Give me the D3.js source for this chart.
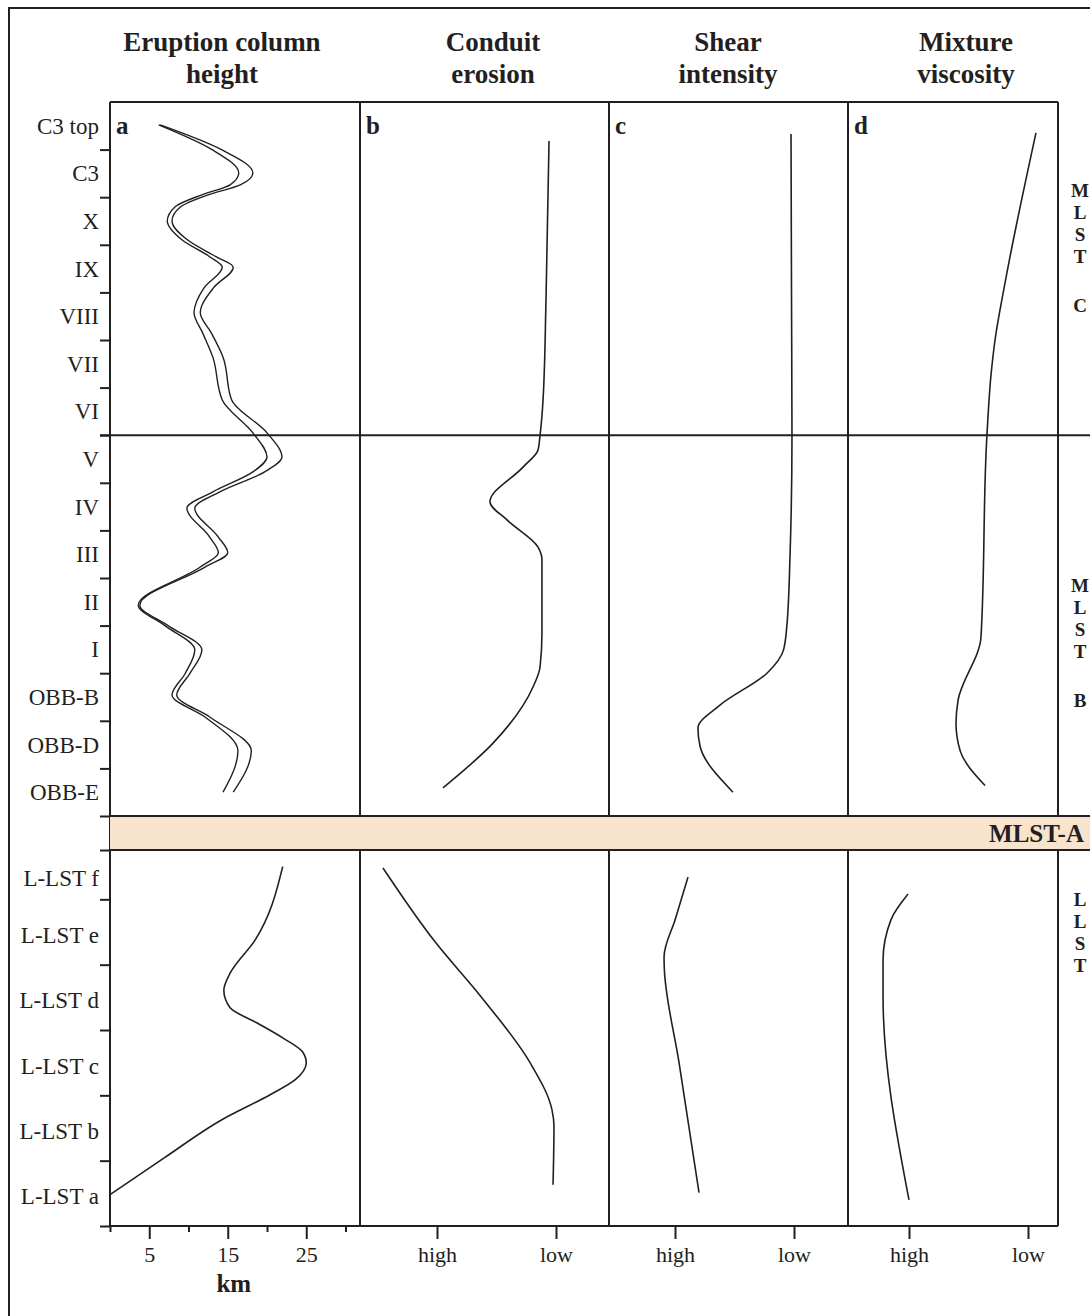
<!DOCTYPE html>
<html>
<head>
<meta charset="utf-8">
<script src="https://cdn.jsdelivr.net/npm/d3@7"></script>
<style>
  html, body { margin: 0; padding: 0; background: #fff; }
  svg { display: block; font-family: 'Liberation Serif', 'Times New Roman', serif; }
</style>
</head>
<body>
<script>
(function(){
    'use strict';

    // stratigraphic units, top to bottom
    var upperUnits = [ 'C3 top', 'C3', 'X', 'IX', 'VIII', 'VII', 'VI', 'V', 'IV', 'III', 'II', 'I', 'OBB-B', 'OBB-D', 'OBB-E' ];
    var lowerUnits = [ 'L-LST f', 'L-LST e', 'L-LST d', 'L-LST c', 'L-LST b', 'L-LST a' ];
    var bandLabel = 'MLST-A';

    var titles = [ [ 'Eruption column', 'height' ], [ 'Conduit', 'erosion' ], [ 'Shear', 'intensity' ], [ 'Mixture', 'viscosity' ] ];
    var panelLetters = [ 'a', 'b', 'c', 'd' ];
    var sideLabels = [ [ 'M', 'L', 'S', 'T', 'C' ], [ 'M', 'L', 'S', 'T', 'B' ], [ 'L', 'L', 'S', 'T' ] ];

    var kmTicks = [ 5, 15, 25 ];
    var kmMinorTicks = [ 0, 10, 20, 30 ];
    var qualTicks = [ 0, 1 ];
    var qualLabels = [ 'high', 'low' ];

    // panel a: eruption column height (km), drawn as a double line (two edges)
    var heightPos   = [ 0.48, 1.0, 1.49, 1.74, 1.95, 2.2, 2.5, 2.9, 3.25, 3.47, 3.9, 4.43, 4.85, 5.36, 6.26, 6.95, 7.46, 7.77, 8.19, 8.53, 9.14, 9.47, 9.77, 10.57, 11.0, 11.51, 12.0, 12.46, 12.92, 13.63, 14.5 ];
    var heightInner = [ 6.2, 13.0, 16.4, 15.3, 11.7, 8.3, 7.3, 9.2, 12.7, 14.3, 12.0, 10.7, 11.8, 13.1, 14.3, 18.2, 20.0, 18.2, 13.1, 9.8, 12.7, 13.8, 11.5, 3.6, 7.0, 10.8, 9.6, 7.9, 12.1, 16.3, 14.4 ];
    var heightOuter = [ 6.4, 14.2, 18.2, 16.6, 12.5, 9.0, 7.9, 9.9, 13.5, 15.7, 13.2, 11.5, 12.9, 14.4, 15.5, 20.0, 21.9, 19.7, 14.0, 10.8, 13.8, 15.0, 12.1, 3.8, 7.4, 11.7, 10.2, 8.5, 12.7, 18.0, 15.7 ];
    var lowHeightPos = [ 0.5, 1.62, 2.13, 2.39, 2.66, 2.89, 3.12, 3.33, 3.5, 3.76, 3.99, 4.37, 4.95, 5.52 ];
    var lowHeightKm  = [ 22.0, 18.5, 15.3, 14.5, 15.3, 18.7, 22.0, 24.5, 25.0, 23.6, 20.4, 14.3, 7.0, 0 ];

    // panels b-d: qualitative, 0 = high, 1 = low
    var erosionPos = [ 0.82, 4.16, 6.26, 7.0, 7.31, 7.67, 8.4, 8.78, 9.35, 9.62, 11.16, 11.87, 12.29, 13.47, 14.41 ];
    var erosionVal = [ 0.941, 0.916, 0.891, 0.866, 0.849, 0.723, 0.445, 0.588, 0.849, 0.882, 0.882, 0.866, 0.807, 0.471, 0.05 ];
    var lowErosionPos = [ 0.52, 1.67, 2.49, 3.5, 4.22, 4.48, 5.37 ];
    var lowErosionVal = [ -0.454, -0.008, 0.37, 0.782, 0.966, 0.983, 0.975 ];

    var shearPos = [ 0.67, 4.0, 7.0, 9.58, 11.0, 11.51, 12.0, 12.67, 13.15, 13.53, 14.5 ];
    var shearVal = [ 0.975, 0.979, 0.983, 0.966, 0.94, 0.912, 0.773, 0.378, 0.193, 0.21, 0.487 ];
    var lowShearPos = [ 0.66, 1.3, 1.88, 2.05, 3.5, 5.49 ];
    var lowShearVal = [ 0.109, 0.003, -0.092, -0.09, 0.034, 0.202 ];

    var viscPos = [ 0.65, 3.8, 5.0, 5.74, 7.0, 11.24, 12.57, 13.05, 13.63, 14.36 ];
    var viscVal = [ 1.067, 0.807, 0.723, 0.689, 0.655, 0.605, 0.412, 0.395, 0.43, 0.639 ];
    var lowViscPos = [ 0.92, 1.31, 1.93, 2.49, 5.6 ];
    var lowViscVal = [ -0.008, -0.151, -0.218, -0.218, 0 ];

    var W = 1090, H = 1316,
        ink = '#231f20',
        panelX = [ 110, 360, 609, 848, 1058 ],
        top = 102,
        bottom = 1226,
        bandBottom = 850;

    var yUp = d3.scaleLinear().domain( [ 0, upperUnits.length ] ).range( [ top, 816 ] ),
        yLo = d3.scaleLinear().domain( [ 0, lowerUnits.length ] ).range( [ 834, bottom ] ),
        bandTop = yUp( upperUnits.length );

    var xKm = d3.scaleLinear().domain( [ 0, 30 ] ).range( [ 110, 345.5 ] ),
        xB = d3.scaleLinear().domain( [ 0, 1 ] ).range( [ 437, 556 ] ),
        xC = d3.scaleLinear().domain( [ 0, 1 ] ).range( [ 675, 794 ] ),
        xD = d3.scaleLinear().domain( [ 0, 1 ] ).range( [ 909, 1028 ] );

    function zip( pos, val ){
        return pos.map(function( p, i ){
            return { p: p, v: val[i] };
        });
    }

    function curve( x, y ){
        return d3.line()
            .x(function( d ){ return x( d.v ); })
            .y(function( d ){ return y( d.p ); })
            .curve( d3.curveMonotoneY );
    }

    var svg = d3.select( 'body' ).append( 'svg' )
        .attr( 'width', W )
        .attr( 'height', H );

    // outer frame, runs off the right and bottom edge
    svg.append( 'rect' )
        .attr( 'x', 9 ).attr( 'y', 8 )
        .attr( 'width', W + 40 ).attr( 'height', H + 40 )
        .attr( 'fill', 'none' )
        .attr( 'stroke', ink )
        .attr( 'stroke-width', 2 );

    // panel frames
    var frame = svg.append( 'g' )
        .attr( 'stroke', ink )
        .attr( 'stroke-width', 2 );

    frame.selectAll( 'line.v' )
        .data( panelX )
        .enter().append( 'line' )
        .attr( 'class', 'v' )
        .attr( 'x1', function( d ){ return d; } )
        .attr( 'x2', function( d ){ return d; } )
        .attr( 'y1', top )
        .attr( 'y2', bottom );

    frame.append( 'line' )
        .attr( 'x1', panelX[0] ).attr( 'x2', panelX[4] )
        .attr( 'y1', top ).attr( 'y2', top );

    frame.append( 'line' )
        .attr( 'x1', panelX[0] ).attr( 'x2', panelX[4] )
        .attr( 'y1', bottom ).attr( 'y2', bottom );

    // MLST-C / MLST-B boundary
    frame.append( 'line' )
        .attr( 'x1', 100 ).attr( 'x2', W )
        .attr( 'y1', yUp( 7 ) ).attr( 'y2', yUp( 7 ) );

    // MLST-A band
    svg.append( 'rect' )
        .attr( 'x', panelX[0] )
        .attr( 'y', bandTop )
        .attr( 'width', W - panelX[0] )
        .attr( 'height', bandBottom - bandTop )
        .attr( 'fill', '#f8e4cc' );

    svg.selectAll( 'line.band' )
        .data( [ bandTop, bandBottom ] )
        .enter().append( 'line' )
        .attr( 'class', 'band' )
        .attr( 'x1', panelX[0] ).attr( 'x2', W )
        .attr( 'y1', function( d ){ return d; } )
        .attr( 'y2', function( d ){ return d; } )
        .attr( 'stroke', ink )
        .attr( 'stroke-width', 2 );

    svg.append( 'text' )
        .attr( 'x', 1084 )
        .attr( 'y', ( bandTop + bandBottom ) / 2 )
        .attr( 'dy', '0.35em' )
        .attr( 'text-anchor', 'end' )
        .attr( 'font-weight', 'bold' )
        .attr( 'font-size', 25 )
        .attr( 'fill', ink )
        .text( bandLabel );

    // left axis: unit boundaries
    var tickYs = d3.range( 1, upperUnits.length + 1 ).map( yUp )
        .concat( [ bandBottom ] )
        .concat( d3.range( 1, lowerUnits.length + 1 ).map( yLo ) );

    var leftAxis = svg.append( 'g' )
        .attr( 'transform', 'translate(' + panelX[0] + ',0)' )
        .call( d3.axisLeft( d3.scaleIdentity().domain( [ 0, H ] ) )
            .tickValues( tickYs )
            .tickSize( 10 )
            .tickFormat( '' )
        );
    leftAxis.select( '.domain' ).remove();
    leftAxis.selectAll( 'line' ).attr( 'stroke', ink ).attr( 'stroke-width', 2 );

    var unitLabels = upperUnits.map(function( u, i ){
        return { text: u, y: yUp( i + 0.5 ) };
    }).concat( lowerUnits.map(function( u, i ){
        return { text: u, y: ( Math.max( yLo( i ), bandBottom ) + yLo( i + 1 ) ) / 2 + 3 };
    }));

    svg.append( 'g' )
        .selectAll( 'text' )
        .data( unitLabels )
        .enter().append( 'text' )
        .attr( 'x', 99 )
        .attr( 'y', function( d ){ return d.y; } )
        .attr( 'dy', '0.35em' )
        .attr( 'text-anchor', 'end' )
        .attr( 'font-size', 23 )
        .attr( 'fill', ink )
        .text( function( d ){ return d.text; } );

    // bottom axes
    function styleAxis( g ){
        g.attr( 'font-family', null ).attr( 'font-size', null );
        g.select( '.domain' ).remove();
        g.selectAll( 'line' ).attr( 'stroke', ink ).attr( 'stroke-width', 2 );
        g.selectAll( 'text' )
            .attr( 'font-size', 22 )
            .attr( 'fill', ink );
    }

    svg.append( 'g' )
        .attr( 'transform', 'translate(0,' + bottom + ')' )
        .call( d3.axisBottom( xKm ).tickValues( kmMinorTicks ).tickSize( 6 ).tickFormat( '' ) )
        .call( styleAxis );

    svg.append( 'g' )
        .attr( 'transform', 'translate(0,' + bottom + ')' )
        .call( d3.axisBottom( xKm ).tickValues( kmTicks ).tickSize( 13 ).tickPadding( 7 ) )
        .call( styleAxis );

    svg.append( 'text' )
        .attr( 'x', xKm( 15 ) + 6 )
        .attr( 'y', 1292 )
        .attr( 'text-anchor', 'middle' )
        .attr( 'font-weight', 'bold' )
        .attr( 'font-size', 25 )
        .attr( 'fill', ink )
        .text( 'km' );

    [ xB, xC, xD ].forEach(function( x ){
        svg.append( 'g' )
            .attr( 'transform', 'translate(0,' + bottom + ')' )
            .call( d3.axisBottom( x )
                .tickValues( qualTicks )
                .tickSize( 13 )
                .tickPadding( 7 )
                .tickFormat( function( d ){ return qualLabels[ d ]; } )
            )
            .call( styleAxis );
    });

    // column titles
    var titleX = [ 222, 493, 728, 966 ];
    titles.forEach(function( t, i ){
        svg.append( 'g' )
            .selectAll( 'text' )
            .data( t )
            .enter().append( 'text' )
            .attr( 'x', titleX[i] )
            .attr( 'y', function( d, j ){ return 51 + j * 32; } )
            .attr( 'text-anchor', 'middle' )
            .attr( 'font-weight', 'bold' )
            .attr( 'font-size', 27 )
            .attr( 'fill', ink )
            .text( function( d ){ return d; } );
    });

    svg.append( 'g' )
        .selectAll( 'text' )
        .data( panelLetters )
        .enter().append( 'text' )
        .attr( 'x', function( d, i ){ return panelX[i] + 6; } )
        .attr( 'y', top + 32 )
        .attr( 'font-weight', 'bold' )
        .attr( 'font-size', 25 )
        .attr( 'fill', ink )
        .text( function( d ){ return d; } );

    // stacked unit names on the right edge;
    // the last letter of MLST-C / MLST-B sits after a gap
    var sideY = [ yUp( 1.85 ), yUp( 10.15 ), yLo( 1.0 ) ];
    sideLabels.forEach(function( letters, i ){
        svg.append( 'g' )
            .selectAll( 'text' )
            .data( letters )
            .enter().append( 'text' )
            .attr( 'x', 1080 )
            .attr( 'y', function( d, j ){ return sideY[i] + j * 22 + ( j > 3 ? 27 : 0 ); } )
            .attr( 'dy', '0.35em' )
            .attr( 'text-anchor', 'middle' )
            .attr( 'font-weight', 'bold' )
            .attr( 'font-size', 19 )
            .attr( 'fill', ink )
            .text( function( d ){ return d; } );
    });

    // curves
    var curves = svg.append( 'g' )
        .attr( 'fill', 'none' )
        .attr( 'stroke', ink );

    [ heightInner, heightOuter ].forEach(function( edge ){
        curves.append( 'path' )
            .attr( 'stroke-width', 1.4 )
            .attr( 'd', curve( xKm, yUp )( zip( heightPos, edge ) ) );
    });

    var singles = [
        { x: xKm, y: yLo, d: zip( lowHeightPos, lowHeightKm ) },
        { x: xB, y: yUp, d: zip( erosionPos, erosionVal ) },
        { x: xB, y: yLo, d: zip( lowErosionPos, lowErosionVal ) },
        { x: xC, y: yUp, d: zip( shearPos, shearVal ) },
        { x: xC, y: yLo, d: zip( lowShearPos, lowShearVal ) },
        { x: xD, y: yUp, d: zip( viscPos, viscVal ) },
        { x: xD, y: yLo, d: zip( lowViscPos, lowViscVal ) }
    ];

    singles.forEach(function( s ){
        curves.append( 'path' )
            .attr( 'stroke-width', 1.6 )
            .attr( 'd', curve( s.x, s.y )( s.d ) );
    });
})();
</script>
</body>
</html>
